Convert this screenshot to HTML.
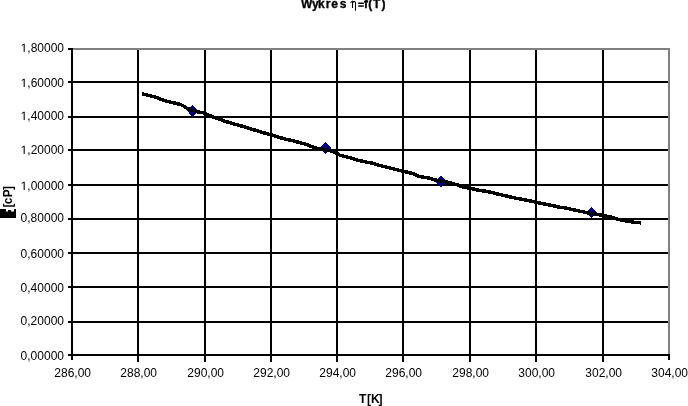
<!DOCTYPE html>
<html><head><meta charset="utf-8"><style>
html,body{margin:0;padding:0;background:#fff;width:688px;height:406px;overflow:hidden}
svg{display:block;will-change:transform}
.t{font-family:"Liberation Sans",sans-serif;font-size:12px;fill:#000}
.b{font-family:"Liberation Sans",sans-serif;font-size:12px;font-weight:bold;fill:#000}
</style></head><body>
<svg width="688" height="406" viewBox="0 0 688 406">
<rect x="68" y="81" width="602" height="2" fill="#000"/>
<rect x="68" y="116" width="602" height="2" fill="#000"/>
<rect x="68" y="149" width="602" height="2" fill="#000"/>
<rect x="68" y="184" width="602" height="2" fill="#000"/>
<rect x="68" y="218" width="602" height="2" fill="#000"/>
<rect x="68" y="252" width="602" height="2" fill="#000"/>
<rect x="68" y="286" width="602" height="2" fill="#000"/>
<rect x="68" y="321" width="602" height="2" fill="#000"/>
<rect x="68" y="354" width="602" height="2" fill="#000"/>
<rect x="71" y="48" width="2" height="312" fill="#000"/>
<rect x="137" y="50" width="2" height="312" fill="#000"/>
<rect x="204" y="50" width="2" height="312" fill="#000"/>
<rect x="270" y="50" width="2" height="312" fill="#000"/>
<rect x="336" y="50" width="2" height="312" fill="#000"/>
<rect x="402" y="50" width="2" height="312" fill="#000"/>
<rect x="469" y="50" width="2" height="312" fill="#000"/>
<rect x="535" y="50" width="2" height="312" fill="#000"/>
<rect x="602" y="50" width="2" height="312" fill="#000"/>
<rect x="73" y="48" width="597" height="2" fill="#808080"/>
<rect x="668" y="48" width="2" height="306" fill="#808080"/>
<rect x="68" y="48" width="4" height="2" fill="#000"/>
<rect x="68" y="81" width="4" height="2" fill="#000"/>
<rect x="68" y="116" width="4" height="2" fill="#000"/>
<rect x="68" y="149" width="4" height="2" fill="#000"/>
<rect x="68" y="184" width="4" height="2" fill="#000"/>
<rect x="68" y="218" width="4" height="2" fill="#000"/>
<rect x="68" y="252" width="4" height="2" fill="#000"/>
<rect x="68" y="286" width="4" height="2" fill="#000"/>
<rect x="68" y="321" width="4" height="2" fill="#000"/>
<rect x="68" y="354" width="4" height="2" fill="#000"/>
<rect x="71" y="354" width="2" height="6" fill="#000"/>
<rect x="137" y="354" width="2" height="6" fill="#000"/>
<rect x="204" y="354" width="2" height="6" fill="#000"/>
<rect x="270" y="354" width="2" height="6" fill="#000"/>
<rect x="336" y="354" width="2" height="6" fill="#000"/>
<rect x="402" y="354" width="2" height="6" fill="#000"/>
<rect x="469" y="354" width="2" height="6" fill="#000"/>
<rect x="535" y="354" width="2" height="6" fill="#000"/>
<rect x="602" y="354" width="2" height="6" fill="#000"/>
<rect x="668" y="354" width="2" height="6" fill="#000"/>
<rect x="71" y="48" width="2" height="312" fill="#000"/>
<rect x="68" y="354" width="602" height="2" fill="#000"/>
<path d="M192.6 104.9L198.1 110.9L192.6 116.9L187.1 110.9Z" fill="#000080" shape-rendering="crispEdges"/>
<path d="M325.5 142L331.0 148L325.5 154L320.0 148Z" fill="#000080" shape-rendering="crispEdges"/>
<path d="M441 175.5L446.5 181.5L441 187.5L435.5 181.5Z" fill="#000080" shape-rendering="crispEdges"/>
<path d="M591.5 206.5L597.0 212.5L591.5 218.5L586.0 212.5Z" fill="#000080" shape-rendering="crispEdges"/>
<polyline points="142.00,93.80 150.00,95.80 158.00,97.80 162.00,99.80 170.00,102.05 180.00,104.30 184.00,106.25 187.00,108.33 192.00,110.25 197.00,111.67 203.00,112.80 207.00,114.42 213.00,116.92 220.00,119.38 226.00,121.58 233.00,123.67 240.00,125.52 246.00,127.40 253.00,129.53 260.00,131.73 268.00,134.05 277.00,136.55 284.00,138.80 293.00,140.80 300.00,142.65 306.00,144.25 310.00,145.90 316.00,148.05 330.00,150.55 336.00,152.93 340.00,155.30 350.00,157.68 356.00,159.80 365.00,161.80 374.00,163.55 379.00,165.30 388.00,167.55 397.00,169.80 407.00,172.05 415.00,174.30 419.00,176.30 430.00,178.30 436.00,180.18 446.00,181.93 452.00,183.38 457.00,184.78 461.00,186.40 468.00,187.88 474.00,189.12 478.00,190.15 485.00,191.10 490.00,192.08 494.00,193.05 499.00,194.35 507.00,196.18 516.00,198.23 527.00,200.28 535.00,201.93 540.00,203.18 547.00,204.58 554.00,205.85 558.00,206.95 566.00,208.05 570.00,209.05 578.00,210.80 590.00,213.25 600.00,214.95 605.00,215.88 611.00,217.00 616.00,218.70 623.00,220.45 630.00,221.62 634.00,222.35 641.00,222.80" fill="none" stroke="#000" stroke-width="3.5" stroke-linejoin="round" shape-rendering="crispEdges"/>
<text x="64" y="52" text-anchor="end" class="t">,80000</text>
<path transform="translate(20.635,52)" d="M3.02 0L3.02-7.25L1.15-5.92L1.15-6.91L3.11-8.26L4.08-8.26L4.08 0Z" fill="#000"/>
<text x="64" y="87" text-anchor="end" class="t">,60000</text>
<path transform="translate(20.635,87)" d="M3.02 0L3.02-7.25L1.15-5.92L1.15-6.91L3.11-8.26L4.08-8.26L4.08 0Z" fill="#000"/>
<text x="64" y="120" text-anchor="end" class="t">,40000</text>
<path transform="translate(20.635,120)" d="M3.02 0L3.02-7.25L1.15-5.92L1.15-6.91L3.11-8.26L4.08-8.26L4.08 0Z" fill="#000"/>
<text x="64" y="154" text-anchor="end" class="t">,20000</text>
<path transform="translate(20.635,154)" d="M3.02 0L3.02-7.25L1.15-5.92L1.15-6.91L3.11-8.26L4.08-8.26L4.08 0Z" fill="#000"/>
<text x="64" y="190" text-anchor="end" class="t">,00000</text>
<path transform="translate(20.635,190)" d="M3.02 0L3.02-7.25L1.15-5.92L1.15-6.91L3.11-8.26L4.08-8.26L4.08 0Z" fill="#000"/>
<text x="64" y="222" text-anchor="end" class="t">0,80000</text>
<text x="64" y="258" text-anchor="end" class="t">0,60000</text>
<text x="64" y="292" text-anchor="end" class="t">0,40000</text>
<text x="64" y="325" text-anchor="end" class="t">0,20000</text>
<text x="64" y="360" text-anchor="end" class="t">0,00000</text>
<text x="72.7" y="377" text-anchor="middle" class="t">286,00</text>
<text x="138.7" y="377" text-anchor="middle" class="t">288,00</text>
<text x="205.7" y="377" text-anchor="middle" class="t">290,00</text>
<text x="271.7" y="377" text-anchor="middle" class="t">292,00</text>
<text x="337.7" y="377" text-anchor="middle" class="t">294,00</text>
<text x="403.7" y="377" text-anchor="middle" class="t">296,00</text>
<text x="470.7" y="377" text-anchor="middle" class="t">298,00</text>
<text x="536.7" y="377" text-anchor="middle" class="t">300,00</text>
<text x="603.7" y="377" text-anchor="middle" class="t">302,00</text>
<text x="669.7" y="377" text-anchor="middle" class="t">304,00</text>
<text x="301.1 311.9 318.1 325.8 331.3 339.7" y="8" class="b" style="stroke:#000;stroke-width:0.35px">Wykres</text>
<text x="364.1 368.3 373.1 381.4" y="8" class="b" style="stroke:#000;stroke-width:0.35px">f(T)</text>
<rect x="358.2" y="2.5" width="5.6" height="1.5" fill="#000"/><rect x="358.2" y="5.3" width="5.6" height="1.5" fill="#000"/>
<path d="M350.5 2.6L352.3 1.3H352.5V7.9M352.6 3Q353.5 1.2 354.5 1.4Q355.5 1.8 355.5 3.2V10.8" fill="none" stroke="#000" stroke-width="1.05"/>
<text x="359 366.9 371.1 378.55" y="403" class="b">T[K]</text>
<text transform="translate(11.6,207.6) rotate(-90)" x="0 3.35 10.25 17.57" class="b">[cP]</text>
<path d="M0 209H16V218H0Z M6 209V211.5H8V210H11V211.5H14V209Z" fill="#000" fill-rule="evenodd"/>
</svg>
</body></html>
